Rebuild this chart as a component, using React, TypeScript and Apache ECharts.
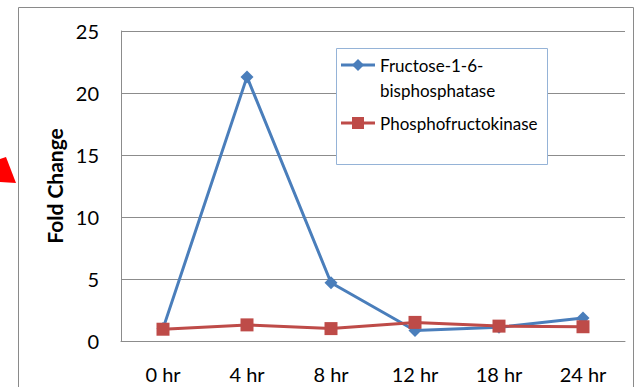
import React, { useEffect, useRef } from "react";
import * as echarts from "echarts";

const categories = ["0 hr", "4 hr", "8 hr", "12 hr", "18 hr", "24 hr"];
const fbpValues = [1.0, 21.3, 4.7, 0.85, 1.1, 1.85];
const pfkValues = [0.95, 1.3, 1.0, 1.5, 1.2, 1.15];
const seriesNames = ["Fructose-1-6-bisphosphatase", "Phosphofructokinase"];
const yTicks = { min: 0, max: 25, interval: 5 };

const BLUE = "#4a7ebb";
const RED = "#be4b48";
const FONT = "Lato, 'Open Sans', sans-serif";

export default function App() {
  const ref = useRef<HTMLDivElement>(null);
  useEffect(() => {
    if (!ref.current) return;
    const chart = echarts.init(ref.current, null, { renderer: "svg" });
    chart.setOption({
      animation: false,
      backgroundColor: "#ffffff",
      grid: { left: 121, top: 31, right: 13, bottom: 46 },
      xAxis: {
        type: "category",
        data: categories,
        boundaryGap: true,
        axisLine: { show: true, lineStyle: { color: "#8c8c8c", width: 1 } },
        axisTick: { show: false },
        axisLabel: { color: "#000", fontSize: 20, fontFamily: FONT, margin: 23 },
      },
      yAxis: {
        type: "value",
        min: yTicks.min,
        max: yTicks.max,
        interval: yTicks.interval,
        name: "Fold Change",
        nameLocation: "middle",
        nameRotate: 90,
        nameGap: 55,
        nameTextStyle: { color: "#000", fontSize: 21, fontWeight: "bold", fontFamily: FONT },
        axisLine: { show: true, lineStyle: { color: "#8c8c8c", width: 1 } },
        axisTick: { show: false },
        axisLabel: { color: "#000", fontSize: 20, fontFamily: FONT, margin: 22 },
        splitLine: { show: true, lineStyle: { color: "#8c8c8c", width: 1 } },
      },
      series: [
        {
          name: seriesNames[0],
          type: "line",
          data: fbpValues,
          symbol: "diamond",
          symbolSize: 13,
          lineStyle: { color: BLUE, width: 3 },
          itemStyle: { color: BLUE },
        },
        {
          name: seriesNames[1],
          type: "line",
          data: pfkValues,
          symbol: "rect",
          symbolSize: 13,
          lineStyle: { color: RED, width: 3 },
          itemStyle: { color: RED },
        },
      ],
      graphic: [
        {
          type: "rect",
          shape: { x: 18.5, y: 7.5, width: 615, height: 400 },
          style: { fill: "none", stroke: "#8a8a8a", lineWidth: 1 },
          silent: true,
        },
        {
          type: "polygon",
          shape: { points: [[0, 159], [6, 157], [16, 183], [0, 182]] },
          style: { fill: "#ff0000" },
          silent: true,
        },
        {
          type: "rect",
          shape: { x: 336.5, y: 48.5, width: 211, height: 116 },
          style: { fill: "#ffffff", stroke: "#95b3d7", lineWidth: 1 },
          z: 10,
        },
        {
          type: "line",
          shape: { x1: 341, y1: 65, x2: 375, y2: 65 },
          style: { stroke: BLUE, lineWidth: 3 },
          z: 11,
        },
        {
          type: "polygon",
          shape: { points: [[358, 59], [364, 65], [358, 71], [352, 65]] },
          style: { fill: BLUE },
          z: 11,
        },
        {
          type: "text",
          x: 380,
          y: 65,
          style: { text: "Fructose-1-6-", fontSize: 17, fontFamily: FONT, fill: "#000", verticalAlign: "middle" },
          z: 11,
        },
        {
          type: "text",
          x: 380,
          y: 90,
          style: { text: "bisphosphatase", fontSize: 17, fontFamily: FONT, fill: "#000", verticalAlign: "middle" },
          z: 11,
        },
        {
          type: "line",
          shape: { x1: 341, y1: 123, x2: 375, y2: 123 },
          style: { stroke: RED, lineWidth: 3 },
          z: 11,
        },
        {
          type: "rect",
          shape: { x: 352, y: 117, width: 12, height: 12 },
          style: { fill: RED },
          z: 11,
        },
        {
          type: "text",
          x: 380,
          y: 123,
          style: { text: "Phosphofructokinase", fontSize: 17, fontFamily: FONT, fill: "#000", verticalAlign: "middle" },
          z: 11,
        },
      ],
    });
    return () => chart.dispose();
  }, []);
  return (
    <div
      ref={ref}
      style={{ position: "absolute", left: 0, top: 0, width: 638, height: 387 }}
    />
  );
}
